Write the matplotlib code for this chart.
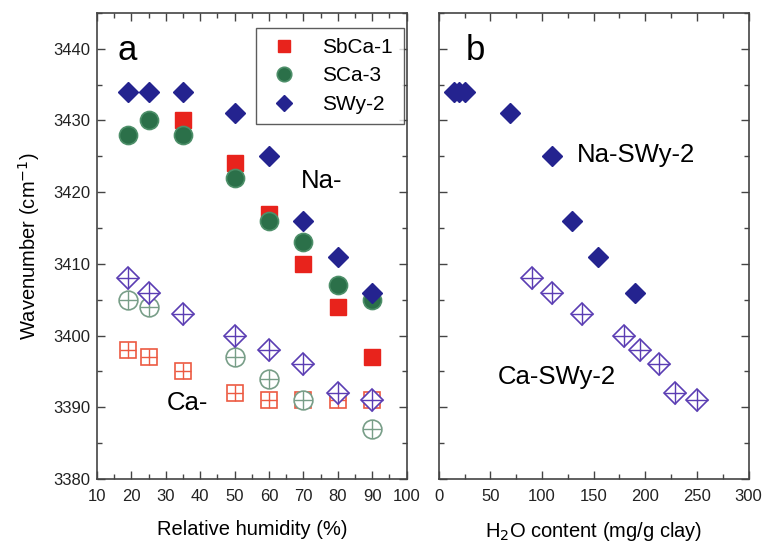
import numpy as np
import matplotlib.pyplot as plt
from matplotlib.ticker import MultipleLocator

# panel a: wavenumber vs relative humidity
rh_sbca_na = [35, 50, 60, 70, 80, 90]
wn_sbca_na = [3430, 3424, 3417, 3410, 3404, 3397]
rh_sca_na = [19, 25, 35, 50, 60, 70, 80, 90]
wn_sca_na = [3428, 3430, 3428, 3422, 3416, 3413, 3407, 3405]
rh_swy_na = [19, 25, 35, 50, 60, 70, 80, 90]
wn_swy_na = [3434, 3434, 3434, 3431, 3425, 3416, 3411, 3406]

rh_sbca_ca = [19, 25, 35, 50, 60, 70, 80, 90]
wn_sbca_ca = [3398, 3397, 3395, 3392, 3391, 3391, 3391, 3391]
rh_sca_ca = [19, 25, 50, 60, 70, 90]
wn_sca_ca = [3405, 3404, 3397, 3394, 3391, 3387]
rh_swy_ca = [19, 25, 35, 50, 60, 70, 80, 90]
wn_swy_ca = [3408, 3406, 3403, 3400, 3398, 3396, 3392, 3391]

# panel b: wavenumber vs water content
h2o_na = [15, 20, 25, 69, 110, 129, 154, 190]
wn_b_na = [3434, 3434, 3434, 3431, 3425, 3416, 3411, 3406]
h2o_ca = [90, 110, 139, 179, 195, 213, 229, 250]
wn_b_ca = [3408, 3406, 3403, 3400, 3398, 3396, 3392, 3391]

RED = "#e8231c"
GREEN = "#2b7049"
BLUE = "#24238f"
RED_O = "#ec5a42"
GREEN_O = "#789e88"
BLUE_O = "#5b3db3"

plt.rcParams.update({
    "font.family": ["Liberation Sans", "DejaVu Sans"],
    "font.size": 12,
    "axes.edgecolor": "#444444",
    "xtick.color": "#444444",
    "ytick.color": "#444444",
    "xtick.labelcolor": "#222222",
    "ytick.labelcolor": "#222222",
})

fig = plt.figure(figsize=(7.63, 5.44), dpi=100)
ax1 = fig.add_axes([0.127, 0.1195, 0.406, 0.857])
ax2 = fig.add_axes([0.575, 0.1195, 0.406, 0.857])


def open_plus(ax, x, y, marker, ms, pms, color):
    ax.plot(x, y, linestyle="none", marker=marker, ms=ms, mfc="white",
            mec=color, mew=1.2)
    ax.plot(x, y, linestyle="none", marker="+", ms=pms, mec=color, mew=1.0)


# filled Na- series
ax1.plot(rh_sbca_na, wn_sbca_na, "s", ms=11.5, color=RED, label="SbCa-1")
ax1.plot(rh_sca_na, wn_sca_na, "o", ms=13, color=GREEN, mec="#4d8f69",
         mew=1.2, label="SCa-3")
ax1.plot(rh_swy_na, wn_swy_na, "D", ms=10, color=BLUE, label="SWy-2")

# open Ca- series
open_plus(ax1, rh_sbca_ca, wn_sbca_ca, "s", 11.5, 11.5, RED_O)
open_plus(ax1, rh_sca_ca, wn_sca_ca, "o", 13.5, 13.5, GREEN_O)
open_plus(ax1, rh_swy_ca, wn_swy_ca, "D", 11, 15.5, BLUE_O)

ax2.plot(h2o_na, wn_b_na, "D", ms=10, color=BLUE)
open_plus(ax2, h2o_ca, wn_b_ca, "D", 11, 15.5, BLUE_O)

for ax in (ax1, ax2):
    ax.set_ylim(3380, 3445)
    ax.yaxis.set_major_locator(MultipleLocator(10))
    ax.yaxis.set_minor_locator(MultipleLocator(5))
    ax.tick_params(which="both", direction="in", top=True, right=True)
    ax.tick_params(which="major", length=6, width=1, pad=7)
    ax.tick_params(which="minor", length=3.5, width=1)
    for sp in ax.spines.values():
        sp.set_linewidth(1.2)

ax1.set_xlim(10, 100)
ax1.xaxis.set_major_locator(MultipleLocator(10))
ax1.xaxis.set_minor_locator(MultipleLocator(5))
ax1.set_xlabel("Relative humidity (%)", fontsize=14.5, labelpad=12)
ax1.set_ylabel("Wavenumber (cm$^{-1}$)", fontsize=14.5, labelpad=8)
ax1.tick_params(axis="y", pad=5)

ax2.set_xlim(0, 300)
ax2.xaxis.set_major_locator(MultipleLocator(50))
ax2.xaxis.set_minor_locator(MultipleLocator(25))
ax2.set_xlabel("H$_2$O content (mg/g clay)", fontsize=14.5, labelpad=12)
ax2.tick_params(axis="y", labelleft=False)

leg = ax1.legend(loc="upper right", bbox_to_anchor=(0.99, 0.968),
                 fontsize=15, frameon=True, fancybox=False, numpoints=1,
                 markerscale=0.8, handletextpad=1.0, borderpad=0.5,
                 labelspacing=0.45, handlelength=1.7, borderaxespad=0)
leg.get_frame().set_edgecolor("#333333")
leg.get_frame().set_linewidth(1.0)

ax1.text(0.068, 0.92, "a", transform=ax1.transAxes, fontsize=25,
         va="center", ha="left")
ax1.text(0.658, 0.64, "Na-", transform=ax1.transAxes, fontsize=18.5,
         va="center", ha="left")
ax1.text(0.226, 0.163, "Ca-", transform=ax1.transAxes, fontsize=18.5,
         va="center", ha="left")
ax2.text(0.088, 0.92, "b", transform=ax2.transAxes, fontsize=25,
         va="center", ha="left")
ax2.text(0.445, 0.695, "Na-SWy-2", transform=ax2.transAxes, fontsize=18.5,
         va="center", ha="left")
ax2.text(0.19, 0.219, "Ca-SWy-2", transform=ax2.transAxes, fontsize=18.5,
         va="center", ha="left")

fig.savefig("out.png", dpi=100)
